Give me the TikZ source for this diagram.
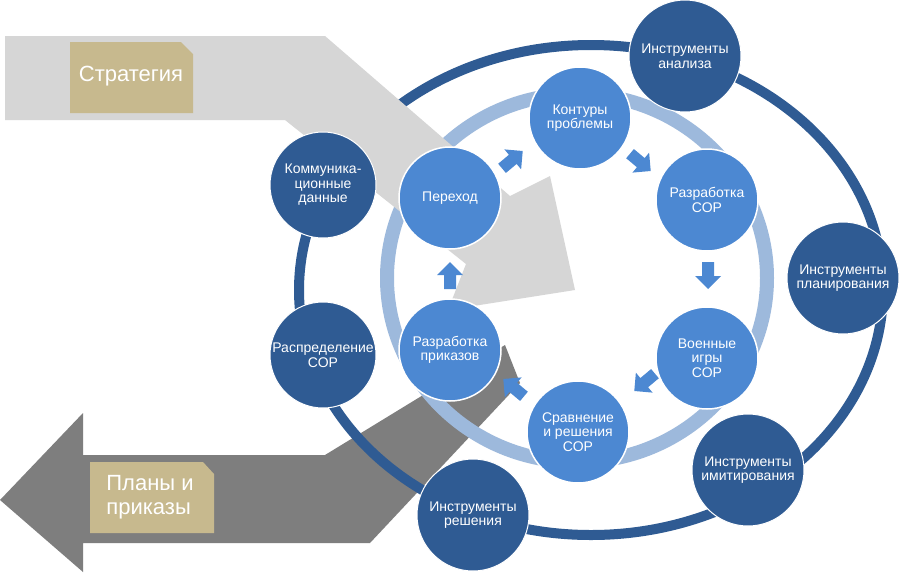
\documentclass[tikz,border=0pt]{standalone}
\usepackage{fontspec}
\setmainfont{Liberation Sans}
\usetikzlibrary{calc}
\definecolor{darkc}{HTML}{2F5B93}
\definecolor{midc}{HTML}{4C88D2}
\definecolor{ringl}{HTML}{9DB9DC}
\definecolor{tan}{HTML}{C7B98E}
\definecolor{lgray}{HTML}{D6D6D6}
\definecolor{dgray}{HTML}{7E7E7E}
\tikzset{
 outer/.style={circle,fill=darkc,draw=white,line width=1pt,minimum size=112pt,inner sep=0pt,align=center,text=white,font=\fontsize{14}{14.5}\selectfont},
 inner/.style={circle,fill=midc,draw=white,line width=1.5pt,minimum size=102pt,inner sep=0pt,align=center,text=white,font=\fontsize{14}{14.5}\selectfont},
 lbl/.style={text=white,font=\fontsize{22}{24}\selectfont,align=left},
 barrow/.style={fill=midc}
}
\newcommand\blkarrow[3]{\begin{scope}[shift={(#1,#2)},rotate=#3]\fill[barrow] (-13,-6) -- (1,-6) -- (1,-13) -- (14,0) -- (1,13) -- (1,6) -- (-13,6) -- cycle;\end{scope}}
\begin{document}
\begin{tikzpicture}[x=1pt,y=-1pt]
\useasboundingbox (0,0) rectangle (900,574);
\fill[white] (0,0) rectangle (900,574);
% lower dark arrow
\fill[dgray] (0,500) -- (83,413) -- (83,455) -- (325,455) -- (505,345) -- (520,383) -- (370,543) -- (83,543) -- (83,572) -- cycle;
% rings
\draw[darkc,line width=10pt] (591,290) ellipse (292 and 245);
\draw[ringl,line width=14pt] (577,278) ellipse (190 and 184);
% top light arrow
\fill[lgray] (5,36) -- (325,36) -- (510,196) -- (550,176) -- (575,290) -- (448,310) -- (466,264) -- (285,120) -- (5,120) -- cycle;
% labels
\fill[tan] (70,42) -- (181,42) -- (193,54) -- (193,113) -- (70,113) -- cycle;
\node[lbl] (strat) at (131,76) {Стратегия};
\fill[tan] (90,462) -- (203,462) -- (214,474) -- (214,533) -- (90,533) -- cycle;
\node[lbl] (plans) at (150,497) {Планы и\\приказы};
% outer circles
\node[outer] (an) at (685,56) {Инструменты\\анализа};
\node[outer] (pl) at (843,278) {Инструменты\\планирования};
\node[outer] (im) at (748,470) {Инструменты\\имитирования};
\node[outer] (re) at (473,515) {Инструменты\\решения};
\node[outer,minimum size=106pt] (ra) at (323,355) {Распределение\\СОР};
\node[outer,minimum size=106pt] (ko) at (323,185) {Коммуника-\\ционные\\данные};
% inner circles
\node[inner] (kp) at (580,118) {Контуры\\проблемы};
\node[inner] (rs) at (707,200) {Разработка\\СОР};
\node[inner] (vi) at (707,358) {Военные\\игры\\СОР};
\node[inner] (sr) at (578,432) {Сравнение\\и решения\\СОР};
\node[inner] (rp) at (450,350) {Разработка\\приказов};
\node[inner] (pe) at (450,198) {Переход};
% small arrows
\blkarrow{512}{160}{40}
\blkarrow{640}{162}{-40}
\blkarrow{708}{275}{-90}
\blkarrow{645}{382}{-140}
\blkarrow{514}{388}{140}
\blkarrow{450}{276}{90}
\end{tikzpicture}
\end{document}
